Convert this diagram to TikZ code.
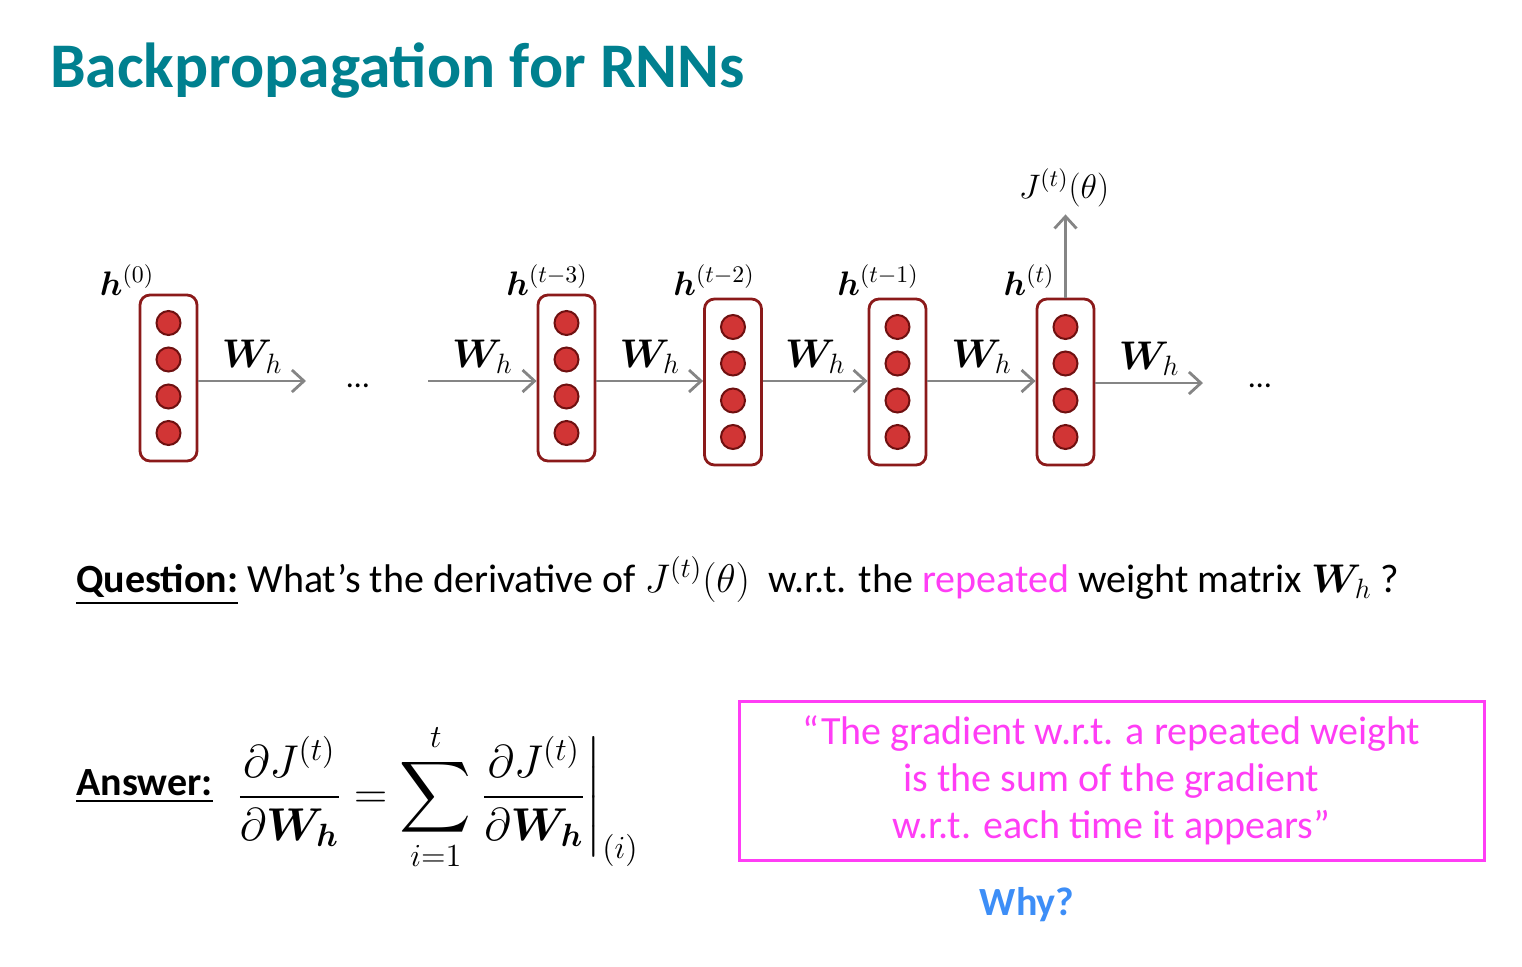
\RequirePackage{fix-cm}
\documentclass[tikz,border=0pt]{standalone}
\usepackage{amsmath,bm}
\usepackage[no-math]{fontspec}
\setmainfont{Carlito}
\usetikzlibrary{arrows.meta}
\definecolor{titleteal}{HTML}{00808F}
\definecolor{quotemag}{HTML}{FF3DF5}
\definecolor{whyblue}{HTML}{3D8EF7}
\definecolor{cellred}{HTML}{8B1A1A}
\definecolor{dotred}{HTML}{D13535}
\definecolor{dotrim}{HTML}{6E1010}
\definecolor{wiregray}{HTML}{858585}

\begin{document}
\begin{tikzpicture}[x=0.5pt,y=-0.5pt]
    \tikzstyle{cell}=[draw=cellred,line width=1.4pt,rounded corners=5pt,minimum width=28.5pt,minimum height=83pt,inner sep=0pt]
    \tikzstyle{unit}=[circle,draw=dotrim,fill=dotred,line width=1pt,minimum size=12pt,inner sep=0pt]
    \tikzstyle{wire}=[draw=wiregray,line width=1.4pt,-{Straight Barb[length=6pt,width=11pt]}]
    \tikzstyle{wlab}=[font=\fontsize{20}{22}\selectfont,above,inner sep=3pt]
    \tikzstyle{hlab}=[font=\fontsize{17}{19}\selectfont]
    \tikzstyle{body}=[font=\fontsize{20}{24}\selectfont,inner sep=0pt]
    \useasboundingbox (0,0) rectangle (1522,966);
    \node[anchor=base west,text=titleteal,font=\fontsize{31.8}{36}\selectfont\bfseries] (title) at (43,87) {Backpropagation for RNNs};
    % hidden states
    \foreach \n/\x/\y/\lx/\st in {c0/168.5/378/127/0, c3/566.5/378/547/t-3, c2/733/382/714/t-2, c1/897.5/382/878/t-1, ct/1065.5/382/1029/t}{
        \node[cell] (\n) at (\x,\y) {};
        \foreach \k [count=\i] in {-55,-18.5,18.5,55}
            \node[unit] (\n-\i) at (\x,\y+\k) {};
        \node[hlab] (\n-lab) at (\lx,280) {$\bm{h}^{(\st)}$};
    }
    \coordinate (row) at (0,381);
    \coordinate (e0) at (306,381);
    \coordinate (s3) at (428,381);
    \coordinate (et) at (1203,383);
    \node[anchor=base,font=\fontsize{16}{18}\selectfont] (dots0) at (358,387) {…};
    \node[anchor=base,font=\fontsize{16}{18}\selectfont] (dots1) at (1260,387) {…};
    % recurrence
    \draw[wire] (c0.east |- e0) -- node[wlab] {$\bm{W}_h$} (e0);
    \draw[wire] (s3) -- node[wlab] {$\bm{W}_h$} (s3 -| c3.west);
    \draw[wire] (c3.east |- row) -- node[wlab] {$\bm{W}_h$} (c2.west |- row);
    \draw[wire] (c2.east |- row) -- node[wlab] {$\bm{W}_h$} (c1.west |- row);
    \draw[wire] (c1.east |- row) -- node[wlab] {$\bm{W}_h$} (ct.west |- row);
    \draw[wire] (ct.east |- et) -- node[wlab] {$\bm{W}_h$} (et);
    % loss
    \node[hlab] (jt) at (1064,188) {$J^{(t)}(\theta)$};
    \draw[wire] (ct.north) -- (ct.north |- jt.south);
    % question and answer
    \node[body,anchor=base west] (question) at (76,592) {\underline{\textbf{Question:}} What’s the derivative of $J^{(t)}(\theta)$ \ w.r.t. the \textcolor{quotemag}{repeated} weight matrix $\bm{W}_h$ ?};
    \node[body,anchor=base west,font=\fontsize{20}{24}\selectfont\bfseries] (answer) at (76,795) {\underline{Answer:}};
    \node[font=\fontsize{23}{27}\selectfont] (grad) at (438,797) {$\displaystyle \frac{\partial J^{(t)}}{\partial \bm{W_h}} = \sum_{i=1}^{t} \left.\frac{\partial J^{(t)}}{\partial \bm{W_h}}\right|_{(i)}$};
    \node[draw=quotemag,line width=1.5pt,minimum width=372.5pt,minimum height=79.5pt,align=center,text=quotemag,font=\fontsize{20}{23.5}\selectfont] (quote) at (1111.5,780.5) {“The gradient w.r.t. a repeated weight\\is the sum of the gradient\\w.r.t. each time it appears”};
    \node[text=whyblue,font=\fontsize{20}{24}\selectfont\bfseries] (why) at (1027,905) {Why?};
\end{tikzpicture}
\end{document}
